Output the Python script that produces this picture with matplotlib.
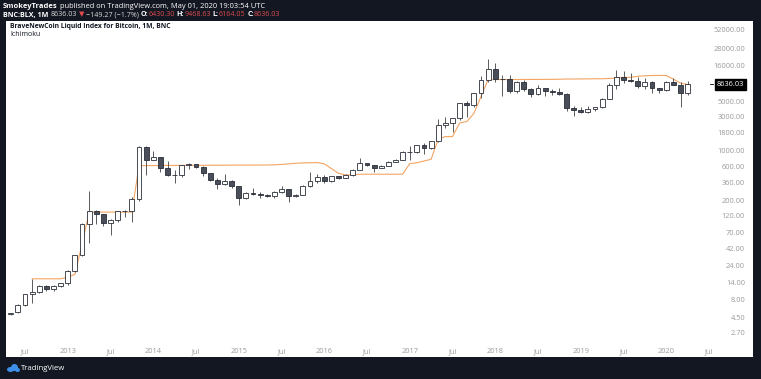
import matplotlib
matplotlib.use("Agg")
import matplotlib.pyplot as plt
from matplotlib.patches import Rectangle, Ellipse
import numpy as np
import pandas as pd

start_month = "2012-05-01"

opens = [
    5.0, 5.25, 6.6, 9.5, 10.2, 12.4, 11.2, 12.5,
    13.5, 20.4, 33.4, 93, 139, 129, 97, 106, 141, 139, 206, 1130,
    732, 803, 573, 457, 447, 630, 640, 586, 481, 386, 338, 378,
    320, 217, 254, 244, 236, 230, 264, 284, 230, 236, 314, 377,
    430, 368, 437, 416, 448, 531, 673, 624, 573, 609, 698, 742,
    963, 970, 1190, 1080, 1350, 2300, 2480, 2875, 4700, 4340, 6470, 9950,
    14150, 10200, 10300, 6930, 9240, 7500, 6400, 7730, 7030, 6630, 6370, 4040,
    3740, 3460, 3810, 4100, 5320, 8570, 10820, 10080, 9630, 8300, 9200, 7570,
    7190, 9350, 8540, 6430.30,
]
highs = [
    5.2, 6.8, 9.5, 15.4, 12.9, 12.8, 12.8, 13.8,
    20.7, 33.5, 95, 266, 148, 130, 110, 140, 146, 220, 1165, 1155,
    1000, 805, 710, 540, 630, 680, 650, 600, 490, 415, 470, 390,
    320, 265, 300, 260, 248, 268, 315, 285, 245, 330, 495, 465,
    460, 445, 440, 465, 550, 780, 680, 630, 620, 715, 755, 975,
    1153, 1200, 1290, 1350, 2760, 2980, 2920, 4760, 4980, 6470, 11400, 19800,
    17200, 11800, 11700, 9760, 10000, 7780, 8500, 7760, 7400, 7700, 6560, 4300,
    4100, 4200, 4100, 5600, 9100, 13880, 13200, 12300, 10900, 10500, 9500, 7750,
    9580, 10500, 9200, 9468.63,
]
lows = [
    4.8, 5.2, 6.4, 7.1, 9.9, 10.4, 10.5, 12.1,
    12.9, 19.5, 33, 50, 92, 88, 65, 100, 115, 100, 195, 450,
    730, 500, 440, 353, 420, 550, 570, 440, 370, 292, 325, 300,
    170, 210, 240, 214, 225, 218, 253, 190, 225, 235, 305, 350,
    355, 365, 395, 415, 440, 530, 610, 500, 570, 605, 690, 740,
    750, 915, 900, 1060, 1340, 2100, 1830, 2690, 2975, 4140, 5520, 9400,
    9200, 6000, 6550, 6430, 7030, 5780, 6100, 5880, 6150, 6200, 3650, 3130,
    3350, 3400, 3670, 4050, 5320, 7500, 9080, 9350, 7720, 7300, 6500, 6430,
    6860, 8450, 4100, 6164.05,
]
closes = [
    5.1, 6.6, 9.4, 10.2, 12.4, 11.2, 12.5, 13.5,
    20.4, 33.4, 93, 139, 129, 97, 106, 141, 139, 206, 1130, 732,
    803, 573, 457, 447, 630, 640, 586, 481, 386, 338, 378, 320,
    217, 254, 244, 236, 230, 264, 284, 230, 236, 314, 377, 430,
    368, 437, 416, 448, 531, 673, 624, 573, 609, 698, 742, 963,
    970, 1190, 1080, 1350, 2300, 2480, 2875, 4700, 4340, 6470, 9950, 14150,
    10200, 10300, 6930, 9240, 7500, 6400, 7730, 7030, 6630, 6370, 4040, 3740,
    3460, 3810, 4100, 5320, 8570, 10820, 10080, 9630, 8300, 9200, 7570, 7190,
    9350, 8540, 6430, 8636.03,
]

# the orange Ichimoku line
kijun = [
    np.nan, np.nan, np.nan, 15.6, 15.6, 15.6, 15.6, 15.6,
    16.5, 18, 48, 136, 136, 136, 136, 136, 136, 136, 615, 615,
    618, 618, 620, 620, 620, 622, 622, 622, 624, 624, 625, 625,
    626, 626, 627, 628, 628, 632, 640, 652, 665, 672, 676, 680,
    652, 560, 480, 455, 455, 466, 466, 466, 466, 466, 466, 466,
    656, 676, 716, 757, 1460, 1580, 1580, 2460, 2580, 3350, 5820, 10050,
    10075, 10075, 10080, 10090, 10100, 10110, 10120, 10135, 10135, 10180, 10240, 10240,
    10270, 10300, 10330, 10345, 10430, 10575, 10815, 10815, 11200, 11390, 11500, 11500,
    11500, 10200, 9000, 8540,
]

price_ticks = [2.7, 4.5, 8, 14, 24, 42, 70, 120, 200, 360, 600, 1000,
               1800, 3000, 5000, 16000, 28000, 52000]
last_price = 8636.03

W, H = 761, 379
BG = "#131722"
FONT = ["Open Sans", "DejaVu Sans"]
RED = "#e04b4f"

fig = plt.figure(figsize=(W / 100, H / 100), dpi=100, facecolor=BG)


def fx(x):
    return x / W


def fy(y):
    return 1 - y / H


# white chart panel, kept under the axes
fig.patches.append(Rectangle((fx(6), fy(357)), (753 - 6) / W, (357 - 21) / H,
                             transform=fig.transFigure, fc="white", ec="none", zorder=-5))

ax = fig.add_axes([fx(8), fy(341), (713 - 8) / W, (341 - 21) / H])
ax.set_zorder(2)
ax.set_facecolor("none")
for s in ax.spines.values():
    s.set_visible(False)

months = pd.date_range(start_month, periods=len(opens), freq="MS")
x = np.arange(len(months))
o = np.array(opens)
c = np.array(closes)
up = c >= o

ax.vlines(x, lows, highs, color="#5a5a5a", lw=0.7, zorder=2)
ax.bar(x, np.abs(c - o), bottom=np.minimum(o, c), width=0.68,
       color=np.where(up, "white", "#4a4e59"), edgecolor="#2a2e39",
       linewidth=0.6, zorder=3)
ax.plot(x, kijun, color="#f5a462", lw=0.8, zorder=1)

ax.set_yscale("log")
ax.set_ylim(2.07, 67450)
ax.set_xlim(-0.39, 98.56)

# axis ticks
tick_dates = pd.date_range("2012-07-01", "2020-07-01", freq="6MS")
tick_pos = [(d.year - months[0].year) * 12 + d.month - months[0].month for d in tick_dates]
tick_lbl = ["Jul" if d.month == 7 else str(d.year) for d in tick_dates]
ax.set_xticks(tick_pos)
ax.set_xticklabels(tick_lbl, fontsize=5.3, color="#9a9a9a", family=FONT)
ax.tick_params(axis="x", length=0, pad=5)

ax.yaxis.tick_right()
ax.set_yticks(price_ticks)
ax.set_yticklabels([f"{v:.2f}" for v in price_ticks], fontsize=5.3,
                   color="#9a9a9a", family=FONT)
ax.yaxis.set_minor_locator(matplotlib.ticker.NullLocator())
ax.tick_params(axis="y", length=0, pad=23)
for lbl in ax.get_yticklabels():
    lbl.set_horizontalalignment("right")

# last price marker
ytr = ax.get_yaxis_transform()
ax.plot([1.0 - 0.004, 1.0], [last_price, last_price], transform=ytr,
        color="black", lw=0.6, clip_on=False)
ax.text(1.0 + 4 / 705, last_price, "8636.03", transform=ytr, ha="left", va="center",
        fontsize=5.3, color="white", family=FONT,
        bbox=dict(boxstyle="square,pad=0.3", fc="black", ec="black"))

# header and titles
renderer = fig.canvas.get_renderer()


def text_run(x0, y0, pieces, size):
    """
    lays the pieces one after the other, spaces turned into a fixed gap
    """
    space = 0.27 * size * 100 / 72
    xx = x0
    for s, color, weight in pieces:
        xx += space * (len(s) - len(s.lstrip(" ")))
        t = fig.text(fx(xx), fy(y0), s.strip(" "), color=color, fontsize=size,
                     fontweight=weight, ha="left", va="center", family=FONT)
        xx += t.get_window_extent(renderer).width
        xx += space * (len(s) - len(s.rstrip(" ")))


text_run(3, 6, [("SmokeyTrades", "white", "bold"),
                (" published on TradingView.com, May 01, 2020 19:03:54 UTC", "white", "normal")], 5.4)
text_run(3, 15, [("BNC:BLX, 1M", "white", "bold"),
                 (" 8636.03 ", "#d8d8d8", "normal"),
                 ("\u25bc", RED, "normal"),
                 (" \u2212149.27 (\u22121.7%) ", "#d8d8d8", "normal"),
                 ("O:", "white", "bold"), ("6430.30 ", RED, "normal"),
                 ("H:", "white", "bold"), ("9468.63 ", RED, "normal"),
                 ("L:", "white", "bold"), ("6164.05 ", RED, "normal"),
                 ("C:", "white", "bold"), ("8636.03", RED, "normal")], 5.1)
text_run(10, 26.5, [("BraveNewCoin Liquid Index for Bitcoin, 1M, BNC", "#131722", "bold")], 4.85)
text_run(10, 34, [("Ichimoku", "#131722", "normal")], 5.0)

# footer logo + name
for (cx, cy, w, h) in [(10.5, 369.5, 7, 5), (14.5, 367.5, 7, 7), (17.5, 370, 5, 4)]:
    fig.patches.append(Ellipse((fx(cx), fy(cy)), w / W, h / H, transform=fig.transFigure,
                               fc="#3d8fe8", ec="none"))
text_run(21, 369, [("TradingView", "white", "normal")], 5.6)

fig.savefig("out.png", dpi=100, facecolor=BG)
